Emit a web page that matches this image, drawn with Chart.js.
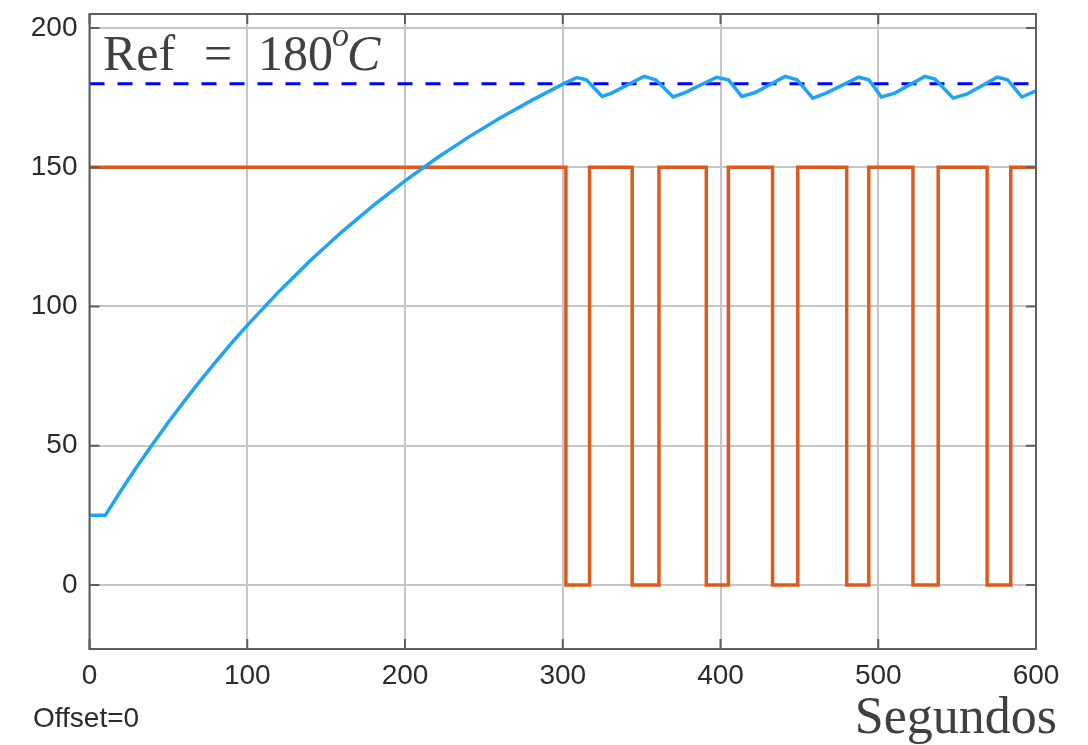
<!DOCTYPE html>
<html>
<head>
<meta charset="utf-8">
<script src="https://cdn.jsdelivr.net/npm/chart.js@4/dist/chart.umd.min.js"></script>
<style>
  body { margin: 0; background: #fff; }
  canvas { display: block; }
</style>
</head>
<body>
<canvas id="myChart" width="1088" height="745"></canvas>
<script>
'use strict';

// temperatura (niebieska)
var tempTimes = [0, 10, 20, 30, 40, 50, 60, 70, 80, 90, 100, 120, 140, 160, 180, 200, 220, 240, 260, 280, 300, 309,
  315, 325, 331, 351.5, 359, 370, 377.5, 397.5, 405, 413.5, 422, 441, 448.5, 458.5, 467, 487.5, 494, 502, 510.5,
  529.5, 536, 547.5, 556, 575.5, 582, 591, 600];
var tempValues = [25, 25, 33.9, 42.4, 50.5, 58.4, 65.9, 73.2, 80.1, 86.8, 93.2, 105.3, 116.5, 126.8, 136.3, 145.1, 153.2, 160.7, 167.6, 173.9, 179.8, 182.2,
  181.4, 175.4, 176.6, 182.6, 181.4, 175.2, 176.8, 182.3, 181.4, 175.4, 176.8, 182.6, 181.4, 174.8, 176.6, 182.3, 181.4, 175.2, 176.6,
  182.6, 181.6, 174.8, 176.2, 182.3, 181.4, 175.2, 177.4];

// grzalka (pomaranczowa) - momenty przelaczen
var heaterTimes = [0, 302, 317, 344, 361, 391, 405, 433, 449, 480, 494, 522, 538, 569, 584, 600];
var heaterValues = [150, 0, 150, 0, 150, 0, 150, 0, 150, 0, 150, 0, 150, 0, 150, 150];

// linia referencyjna
var refTimes = [0, 600];
var refValues = [180, 180];

var xTicks = [0, 100, 200, 300, 400, 500, 600];
var yTicks = [0, 50, 100, 150, 200];

function toPoints(xs, ys) {
  return xs.map(function(x, i) { return { x: x, y: ys[i] }; });
}

var textColor = '#2b2b2b';
var sansFont = '"Liberation Sans", Arial, sans-serif';
var serifFont = '"Liberation Serif", "Times New Roman", serif';

// ramka + ticki do srodka + napisy
var boxPlugin = {
  id: 'boxPlugin',
  afterDraw: function(chart) {
    var c = chart.ctx;
    var a = chart.chartArea;
    var xs = chart.scales.x;
    var ys = chart.scales.y;
    c.save();
    c.strokeStyle = '#5e5e5e';
    c.lineWidth = 2;
    c.beginPath();
    yTicks.forEach(function(v) {
      var py = ys.getPixelForValue(v);
      c.moveTo(a.left, py); c.lineTo(a.left + 10, py);
      c.moveTo(a.right, py); c.lineTo(a.right - 10, py);
    });
    xTicks.forEach(function(v) {
      var px = xs.getPixelForValue(v);
      c.moveTo(px, a.bottom); c.lineTo(px, a.bottom - 10);
      c.moveTo(px, a.top); c.lineTo(px, a.top + 10);
    });
    c.stroke();
    c.strokeRect(a.left, a.top, a.right - a.left, a.bottom - a.top);

    c.fillStyle = '#404040';
    c.textBaseline = 'alphabetic';
    c.textAlign = 'left';
    c.font = '50px ' + serifFont;
    c.fillText('Ref', 103, 70);
    c.fillText('=', 204, 70);
    c.fillText('180', 258, 70);
    c.font = 'italic 34px ' + serifFont;
    c.fillText('o', 332, 46);
    c.font = 'italic 50px ' + serifFont;
    c.fillText('C', 347, 70);

    c.font = '52px ' + serifFont;
    c.textAlign = 'right';
    c.fillText('Segundos', 1057, 733);

    c.fillStyle = textColor;
    c.font = '28px ' + sansFont;
    c.textAlign = 'left';
    c.fillText('Offset=0', 33, 727);
    c.restore();
  }
};

var ctx = document.getElementById('myChart').getContext('2d');

var chart = new Chart(ctx, {
  type: 'line',
  plugins: [boxPlugin],
  data: {
    datasets: [{
      label: 'Temperatura',
      data: toPoints(tempTimes, tempValues),
      borderColor: '#1ea3f5',
      borderWidth: 3.5,
      pointRadius: 0,
      tension: 0,
      order: 0
    },
    {
      label: 'Grzalka',
      data: toPoints(heaterTimes, heaterValues),
      borderColor: '#dd5a1d',
      borderWidth: 3.5,
      pointRadius: 0,
      // poziomo, potem pionowo
      stepped: 'before',
      order: 1
    },
    {
      label: 'Ref',
      data: toPoints(refTimes, refValues),
      borderColor: '#0000ff',
      borderWidth: 3,
      borderDash: [15, 13],
      pointRadius: 0,
      order: 2
    }]
  },
  options: {
    responsive: false,
    animation: false,
    devicePixelRatio: 1,
    layout: { padding: { left: 0, top: 14, right: 52, bottom: 0 } },
    plugins: {
      legend: { display: false },
      tooltip: { enabled: false }
    },
    scales: {
      x: {
        type: 'linear',
        min: 0,
        max: 600,
        afterBuildTicks: function(scale) {
          scale.ticks = xTicks.map(function(v) { return { value: v }; });
        },
        afterFit: function(scale) {
          scale.height = 96;
          scale.paddingLeft = 0;
          scale.paddingRight = 0;
        },
        grid: { color: '#c6c6c6', lineWidth: 2, drawTicks: false },
        border: { display: false },
        ticks: {
          padding: 10,
          maxRotation: 0,
          color: textColor,
          font: { family: sansFont, size: 28 }
        }
      },
      y: {
        type: 'linear',
        min: -23,
        max: 205,
        afterBuildTicks: function(scale) {
          scale.ticks = yTicks.map(function(v) { return { value: v }; });
        },
        afterFit: function(scale) {
          scale.width = 89.5;
          scale.paddingTop = 0;
          scale.paddingBottom = 0;
        },
        grid: { color: '#c6c6c6', lineWidth: 2, drawTicks: false },
        border: { display: false },
        ticks: {
          padding: 12,
          color: textColor,
          font: { family: sansFont, size: 28 }
        }
      }
    }
  }
});
</script>
</body>
</html>
